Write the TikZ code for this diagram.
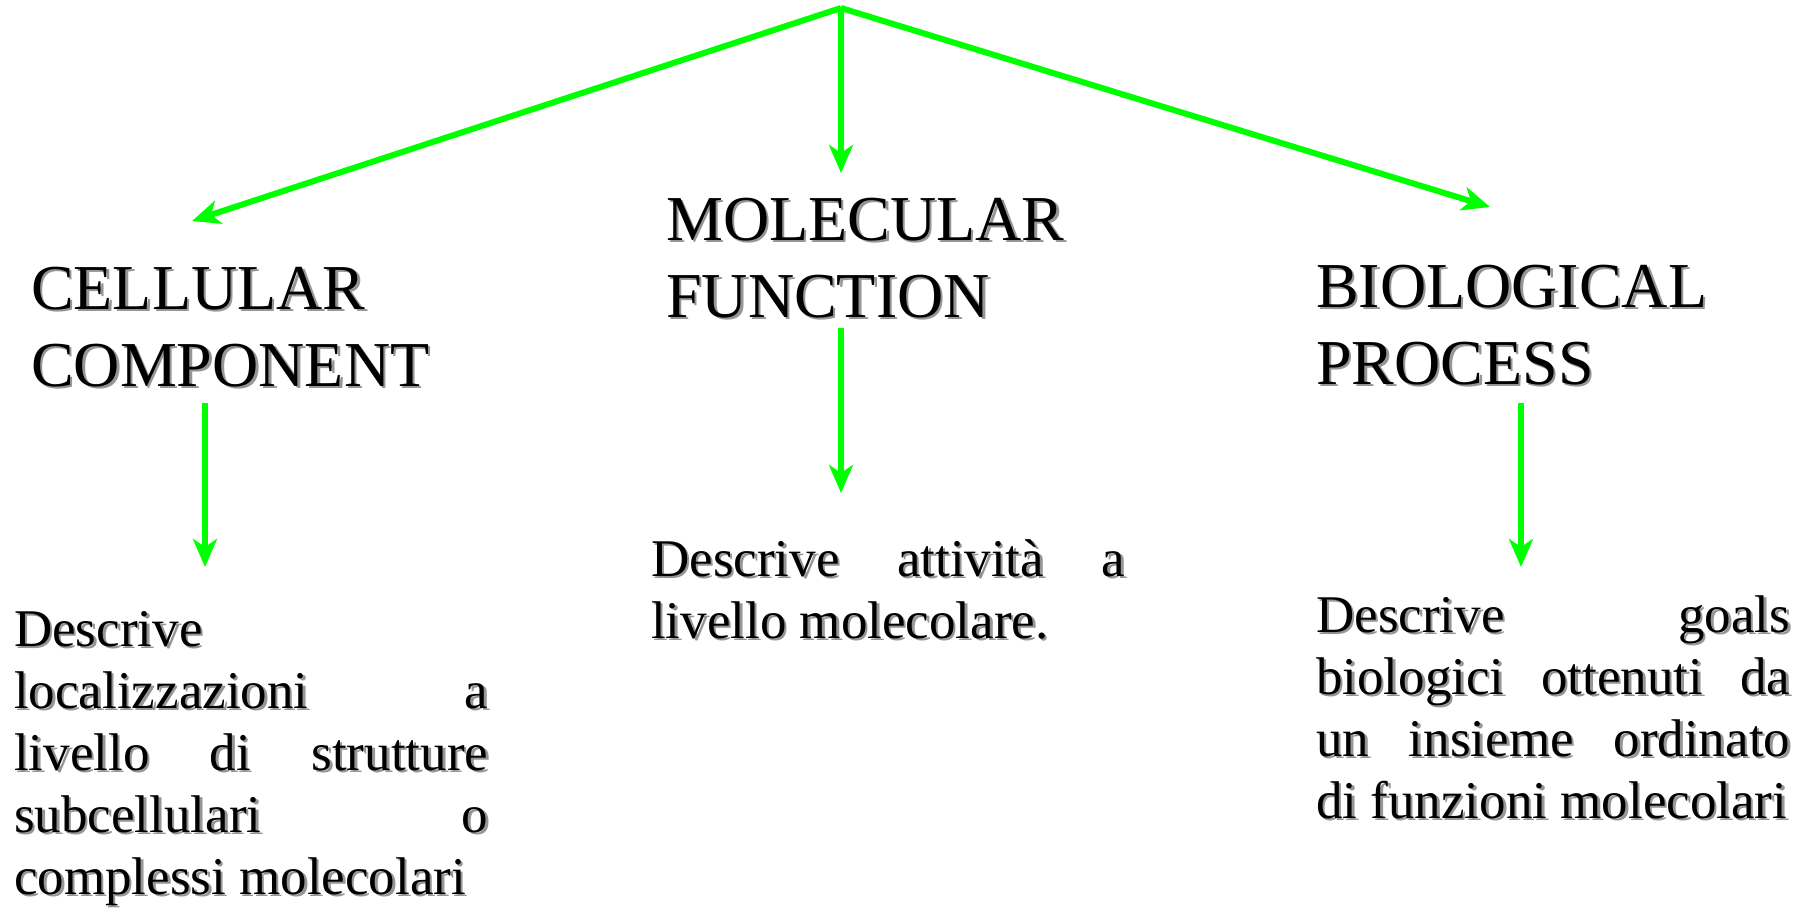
\documentclass[tikz,border=0pt]{standalone}
\usepackage{fontspec}
\setmainfont{Liberation Serif}
\usetikzlibrary{arrows.meta}

\definecolor{linkgreen}{RGB}{0,255,0}
\definecolor{shadowgray}{RGB}{150,150,150}

% text with a soft grey drop shadow
\newcommand\shd[1]{\makebox[0pt][l]{\hspace{2.5bp}\raisebox{-2.5bp}{\textcolor{shadowgray}{#1}}}#1}
% a fully justified line of a description block
\newlength\blockw
\setlength\blockw{474bp}
\newcommand\jl[1]{\makebox[\blockw][s]{#1}}

\begin{document}
\begin{tikzpicture}[x=1bp,y=-1bp,
  link/.style={draw=linkgreen, line width=6bp,
    -{Stealth[length=28bp,width=24bp,inset=8bp]}},
  heading/.style={anchor=base west, inner sep=0pt, align=left,
    font=\fontsize{64bp}{77bp}\selectfont},
  body/.style={anchor=base west, inner sep=0pt, align=left,
    font=\fontsize{53bp}{62bp}\selectfont}]
\useasboundingbox (0,0) rectangle (1807,912);

% branching from the root
\coordinate (root) at (841,8);
\coordinate (ccTip) at (192,221);
\coordinate (mfTip) at (841,173);
\coordinate (bpTip) at (1490,207);
\draw[link] (root) -- (ccTip);
\draw[link] (root) -- (mfTip);
\draw[link] (root) -- (bpTip);

% category headings (positioned by the baseline of their last line)
\node[heading] (cc) at (31,386) {\shd{CELLULAR}\\\shd{COMPONENT}};
\node[heading] (mf) at (666,317) {\shd{MOLECULAR}\\\shd{FUNCTION}};
\node[heading] (bp) at (1316,384) {\shd{BIOLOGICAL}\\\shd{PROCESS}};

% descriptions
\node[body] (ccText) at (14,894) {\shd{Descrive}\\
  \shd{\jl{localizzazioni a}}\\
  \shd{\jl{livello di strutture}}\\
  \shd{\jl{subcellulari o}}\\
  \shd{complessi molecolari}};
\node[body] (mfText) at (651,638) {\shd{\jl{Descrive attività a}}\\
  \shd{livello molecolare.}};
\node[body] (bpText) at (1316,818) {\shd{\jl{Descrive goals}}\\
  \shd{\jl{biologici ottenuti da}}\\
  \shd{\jl{un insieme ordinato}}\\
  \shd{di funzioni molecolari}};

% arrows from headings down to descriptions
\coordinate (ccFrom) at (205,403);
\coordinate (ccTo) at (205,567);
\coordinate (mfFrom) at (841,328);
\coordinate (mfTo) at (841,493);
\coordinate (bpFrom) at (1521,403);
\coordinate (bpTo) at (1521,567);
\draw[link] (ccFrom) -- (ccTo);
\draw[link] (mfFrom) -- (mfTo);
\draw[link] (bpFrom) -- (bpTo);
\end{tikzpicture}
\end{document}
